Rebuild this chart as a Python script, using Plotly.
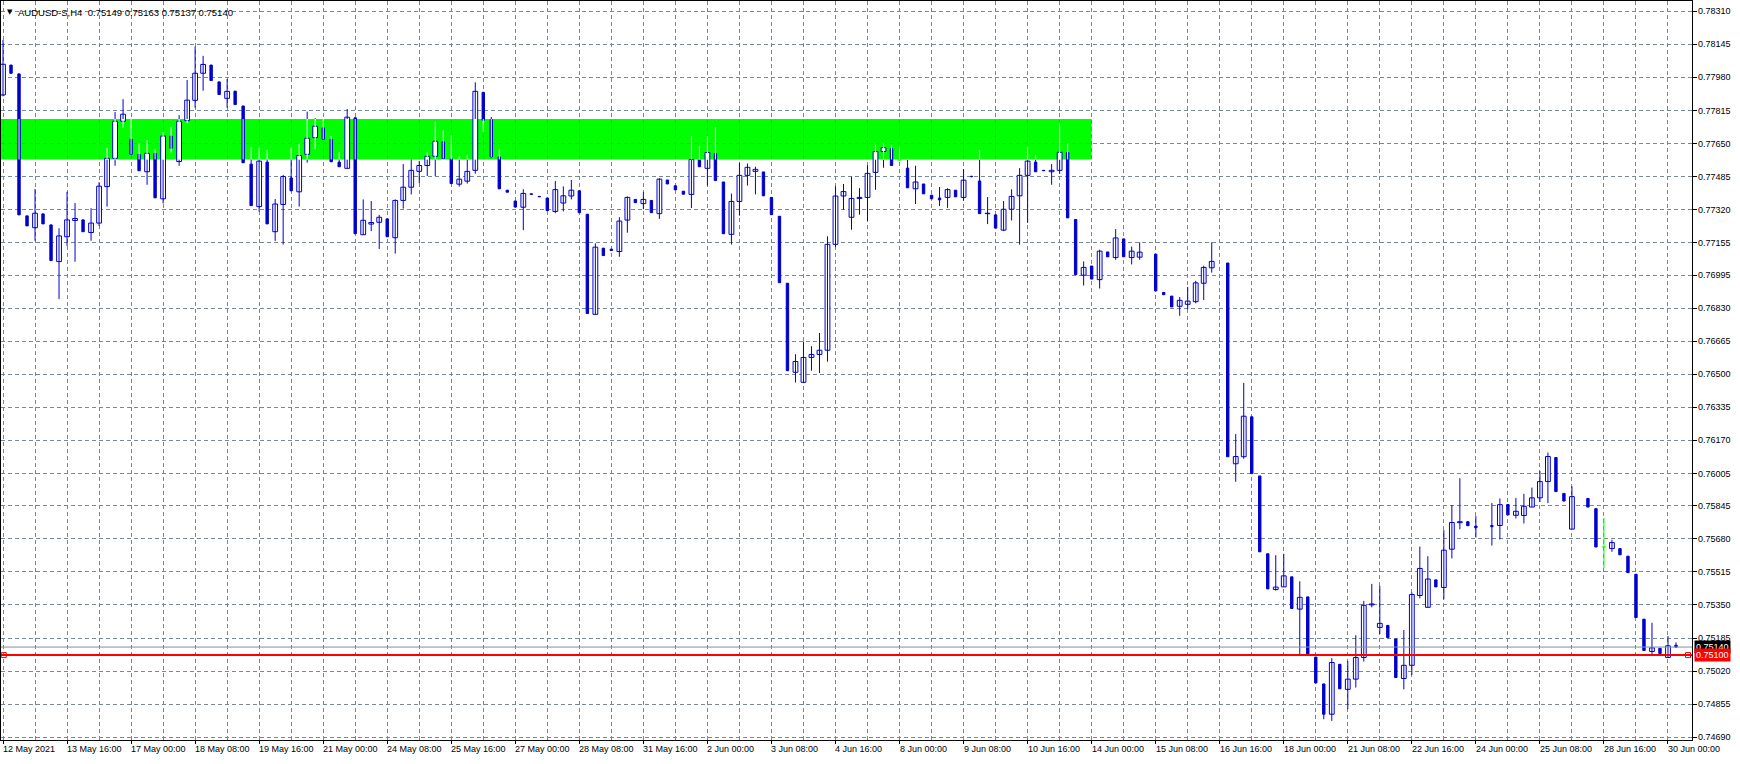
import plotly.graph_objects as go

# ---------------- data (AUDUSD-S, H4) ----------------
date_labels = ["12 May 2021", "13 May 16:00", "17 May 00:00", "18 May 08:00", "19 May 16:00",
               "21 May 00:00", "24 May 08:00", "25 May 16:00", "27 May 00:00", "28 May 08:00",
               "31 May 16:00", "2 Jun 00:00", "3 Jun 08:00", "4 Jun 16:00", "8 Jun 00:00",
               "9 Jun 08:00", "10 Jun 16:00", "14 Jun 00:00", "15 Jun 08:00", "16 Jun 16:00",
               "18 Jun 00:00", "21 Jun 08:00", "22 Jun 16:00", "24 Jun 00:00", "25 Jun 08:00",
               "28 Jun 16:00", "30 Jun 00:00"]

open_ = [
    0.77893, 0.78042, 0.77998, 0.77290, 0.77231, 0.77300, 0.77245, 0.77062, 0.77186, 0.77267,
    0.77270, 0.77207, 0.77254, 0.77436, 0.77577, 0.77762, 0.77672, 0.77597, 0.77510, 0.77602,
    0.77375, 0.77688, 0.77561, 0.77765, 0.77866, 0.78001, 0.78042, 0.77958, 0.77876, 0.77912,
    0.77838, 0.77548, 0.77336, 0.77558, 0.77211, 0.77347, 0.77479, 0.77410, 0.77597, 0.77680,
    0.77729, 0.77672, 0.77558, 0.77527, 0.77779, 0.77196, 0.77249, 0.77258, 0.77275, 0.77181,
    0.77367, 0.77433, 0.77512, 0.77541, 0.77587, 0.77660, 0.77574, 0.77448, 0.77463, 0.77517,
    0.77906, 0.77770, 0.77584, 0.77418, 0.77364, 0.77333, 0.77400, 0.77387, 0.77379, 0.77312,
    0.77354, 0.77389, 0.77415, 0.77298, 0.76799, 0.77129, 0.77124, 0.77112, 0.77269, 0.77372,
    0.77351, 0.77367, 0.77301, 0.77469, 0.77440, 0.77413, 0.77397, 0.77568, 0.77527, 0.77601,
    0.77459, 0.77198, 0.77362, 0.77492, 0.77512, 0.77509, 0.77382, 0.77288, 0.76954, 0.76510,
    0.76460, 0.76584, 0.76599, 0.76620, 0.77148, 0.77389, 0.77283, 0.77377, 0.77382, 0.77507,
    0.77611, 0.77625, 0.77568, 0.77528, 0.77425, 0.77449, 0.77393, 0.77379, 0.77382, 0.77418,
    0.77382, 0.77487, 0.77464, 0.77301, 0.77295, 0.77219, 0.77323, 0.77390, 0.77492, 0.77558,
    0.77517, 0.77510, 0.77517, 0.77607, 0.77272, 0.76994, 0.77040, 0.76972, 0.77110, 0.77082,
    0.77175, 0.77082, 0.77084, None, 0.77099, 0.76908, 0.76890, 0.76839, 0.76849, 0.76862,
    0.76954, 0.77031, None, 0.77055, 0.76054, 0.76089, 0.76288, 0.75993, 0.75605, 0.75427,
    0.75440, 0.75490, 0.75329, 0.75390, 0.75090, 0.74956, 0.74805, 0.75054, 0.74929, 0.74980,
    0.75088, 0.75350, 0.75238, 0.75248, 0.75180, 0.74983, 0.75049, 0.75397, 0.75338, 0.75475,
    0.75437, 0.75628, 0.75760, 0.75765, 0.75743, None, 0.75746, 0.75746, 0.75851, 0.75797,
    0.75796, 0.75838, 0.75884, 0.75965, 0.76085, 0.75906, 0.75728, None, 0.75881, 0.75830,
    0.75639, 0.75631, 0.75631, 0.75593, 0.75503, 0.75279, 0.75118, 0.75134, 0.75088, 0.75149,
]
high = [
    0.78167, 0.78042, 0.77998, 0.77290, 0.77424, 0.77300, 0.77245, 0.77228, 0.77410, 0.77354,
    0.77270, 0.77328, 0.77458, 0.77629, 0.77808, 0.77872, 0.77774, 0.77652, 0.77668, 0.77622,
    0.77708, 0.77734, 0.77792, 0.77968, 0.78134, 0.78088, 0.78042, 0.77958, 0.77972, 0.77912,
    0.77838, 0.77632, 0.77630, 0.77619, 0.77374, 0.77494, 0.77632, 0.77650, 0.77810, 0.77777,
    0.77772, 0.77688, 0.77609, 0.77823, 0.77779, 0.77372, 0.77364, 0.77295, 0.77275, 0.77372,
    0.77548, 0.77571, 0.77564, 0.77609, 0.77759, 0.77716, 0.77691, 0.77587, 0.77592, 0.77956,
    0.77906, 0.77783, 0.77622, 0.77418, 0.77364, 0.77423, 0.77400, 0.77387, 0.77379, 0.77464,
    0.77437, 0.77469, 0.77415, 0.77298, 0.77153, 0.77129, 0.77124, 0.77283, 0.77387, 0.77372,
    0.77408, 0.77367, 0.77478, 0.77469, 0.77440, 0.77413, 0.77688, 0.77639, 0.77688, 0.77731,
    0.77459, 0.77401, 0.77555, 0.77551, 0.77535, 0.77509, 0.77382, 0.77288, 0.76954, 0.76600,
    0.76663, 0.76640, 0.76706, 0.77188, 0.77438, 0.77449, 0.77486, 0.77428, 0.77543, 0.77645,
    0.77653, 0.77644, 0.77632, 0.77578, 0.77540, 0.77449, 0.77393, 0.77434, 0.77428, 0.77418,
    0.77523, 0.77490, 0.77619, 0.77384, 0.77295, 0.77364, 0.77423, 0.77528, 0.77634, 0.77594,
    0.77517, 0.77548, 0.77752, 0.77652, 0.77272, 0.77063, 0.77040, 0.77121, 0.77110, 0.77224,
    0.77175, 0.77137, 0.77158, None, 0.77099, 0.76908, 0.76890, 0.76885, 0.76936, 0.76966,
    0.77041, 0.77158, None, 0.77055, 0.76202, 0.76457, 0.76288, 0.75993, 0.75605, 0.75598,
    0.75605, 0.75490, 0.75468, 0.75390, 0.75090, 0.74956, 0.75085, 0.75054, 0.75070, 0.75199,
    0.75370, 0.75455, 0.75445, 0.75248, 0.75180, 0.75225, 0.75412, 0.75641, 0.75593, 0.75475,
    0.75723, 0.75848, 0.75982, 0.75765, 0.75793, None, 0.75858, 0.75881, 0.75851, 0.75884,
    0.75904, 0.75935, 0.76018, 0.76110, 0.76085, 0.75906, 0.75942, None, 0.75881, 0.75830,
    0.75784, 0.75675, 0.75631, 0.75593, 0.75503, 0.75279, 0.75261, 0.75134, 0.75195, 0.75163,
]
low = [
    0.77886, 0.78001, 0.77295, 0.77240, 0.77166, 0.77250, 0.77067, 0.76875, 0.77140, 0.77061,
    0.77211, 0.77166, 0.77240, 0.77336, 0.77540, 0.77730, 0.77597, 0.77515, 0.77445, 0.77380,
    0.77352, 0.77606, 0.77540, 0.77752, 0.77829, 0.77914, 0.77965, 0.77895, 0.77829, 0.77845,
    0.77555, 0.77341, 0.77311, 0.77250, 0.77165, 0.77147, 0.77415, 0.77336, 0.77555, 0.77622,
    0.77672, 0.77560, 0.77535, 0.77527, 0.77201, 0.77196, 0.77214, 0.77125, 0.77186, 0.77102,
    0.77326, 0.77397, 0.77453, 0.77489, 0.77489, 0.77576, 0.77451, 0.77436, 0.77451, 0.77500,
    0.77709, 0.77584, 0.77425, 0.77408, 0.77334, 0.77219, 0.77397, 0.77385, 0.77316, 0.77303,
    0.77312, 0.77372, 0.77306, 0.76803, 0.76799, 0.77092, 0.77117, 0.77086, 0.77206, 0.77356,
    0.77323, 0.77306, 0.77275, 0.77449, 0.77420, 0.77398, 0.77329, 0.77535, 0.77441, 0.77466,
    0.77201, 0.77147, 0.77291, 0.77441, 0.77397, 0.77390, 0.77296, 0.76957, 0.76518, 0.76459,
    0.76456, 0.76518, 0.76506, 0.76563, 0.77134, 0.77321, 0.77221, 0.77296, 0.77264, 0.77420,
    0.77530, 0.77541, 0.77565, 0.77430, 0.77349, 0.77400, 0.77375, 0.77339, 0.77330, 0.77385,
    0.77366, 0.77482, 0.77301, 0.77249, 0.77229, 0.77214, 0.77267, 0.77147, 0.77255, 0.77510,
    0.77515, 0.77445, 0.77499, 0.77280, 0.76997, 0.76943, 0.76975, 0.76928, 0.77086, 0.77071,
    0.77086, 0.77048, 0.77071, None, 0.76916, 0.76897, 0.76836, 0.76792, 0.76824, 0.76854,
    0.76870, 0.77007, None, 0.76089, 0.75964, 0.76079, 0.76005, 0.75615, 0.75430, 0.75421,
    0.75440, 0.75332, 0.75105, 0.75105, 0.74961, 0.74780, 0.74772, 0.74932, 0.74830, 0.74938,
    0.75068, 0.75338, 0.75205, 0.75187, 0.74988, 0.74929, 0.75001, 0.75383, 0.75338, 0.75440,
    0.75378, 0.75582, 0.75727, 0.75745, 0.75686, None, 0.75646, 0.75677, 0.75799, 0.75781,
    0.75756, 0.75838, 0.75863, 0.75858, 0.75915, 0.75868, 0.75728, None, 0.75838, 0.75639,
    0.75534, 0.75615, 0.75600, 0.75511, 0.75287, 0.75123, 0.75095, 0.75108, 0.75088, 0.75137,
]
close = [
    0.78046, 0.78001, 0.77295, 0.77240, 0.77303, 0.77250, 0.77067, 0.77190, 0.77270, 0.77277,
    0.77211, 0.77254, 0.77438, 0.77577, 0.77762, 0.77797, 0.77597, 0.77515, 0.77602, 0.77380,
    0.77688, 0.77627, 0.77762, 0.77867, 0.78001, 0.78045, 0.77965, 0.77895, 0.77911, 0.77845,
    0.77555, 0.77341, 0.77563, 0.77250, 0.77349, 0.77486, 0.77415, 0.77591, 0.77677, 0.77737,
    0.77672, 0.77560, 0.77535, 0.77782, 0.77201, 0.77268, 0.77257, 0.77283, 0.77186, 0.77367,
    0.77433, 0.77517, 0.77541, 0.77587, 0.77662, 0.77576, 0.77451, 0.77473, 0.77512, 0.77911,
    0.77767, 0.77584, 0.77425, 0.77408, 0.77334, 0.77402, 0.77397, 0.77385, 0.77316, 0.77421,
    0.77390, 0.77418, 0.77306, 0.76803, 0.77134, 0.77092, 0.77117, 0.77264, 0.77382, 0.77356,
    0.77372, 0.77306, 0.77473, 0.77449, 0.77420, 0.77398, 0.77571, 0.77535, 0.77606, 0.77466,
    0.77201, 0.77362, 0.77492, 0.77532, 0.77522, 0.77390, 0.77296, 0.76957, 0.76518, 0.76564,
    0.76584, 0.76599, 0.76620, 0.77148, 0.77389, 0.77411, 0.77377, 0.77382, 0.77502, 0.77611,
    0.77630, 0.77541, 0.77568, 0.77430, 0.77459, 0.77400, 0.77375, 0.77370, 0.77421, 0.77385,
    0.77468, 0.77486, 0.77301, 0.77303, 0.77229, 0.77323, 0.77387, 0.77492, 0.77563, 0.77510,
    0.77515, 0.77517, 0.77607, 0.77280, 0.76997, 0.77033, 0.76975, 0.77114, 0.77086, 0.77180,
    0.77086, 0.77114, 0.77109, None, 0.76916, 0.76897, 0.76836, 0.76869, 0.76865, 0.76956,
    0.77033, 0.77063, None, 0.76089, 0.76090, 0.76291, 0.76005, 0.75615, 0.75430, 0.75439,
    0.75495, 0.75332, 0.75388, 0.75105, 0.74961, 0.74805, 0.75063, 0.74932, 0.74980, 0.75088,
    0.75348, 0.75355, 0.75258, 0.75187, 0.74988, 0.75049, 0.75402, 0.75532, 0.75479, 0.75440,
    0.75623, 0.75761, 0.75765, 0.75745, 0.75735, None, 0.75740, 0.75850, 0.75799, 0.75817,
    0.75842, 0.75884, 0.75965, 0.76090, 0.75915, 0.75868, 0.75890, None, 0.75838, 0.75639,
    0.75639, 0.75661, 0.75600, 0.75511, 0.75287, 0.75123, 0.75136, 0.75108, 0.75146, 0.75140,
]

price_ticks = [0.78310, 0.78145, 0.77980, 0.77815, 0.77650, 0.77485, 0.77320, 0.77155,
               0.76995, 0.76830, 0.76665, 0.76500, 0.76335, 0.76170, 0.76005, 0.75845,
               0.75680, 0.75515, 0.75350, 0.75185, 0.75020, 0.74855, 0.74690]

zone_low, zone_high = 0.77571, 0.77773   # green rectangle prices
zone_end_bar = 136                       # rectangle ends at 14 Jun 00:00
level_price = 0.75100                    # red horizontal line
bid_price = 0.75140                      # current bid
header = "AUDUSD-S,H4  0.75149 0.75163 0.75137 0.75140"

# ---------------- styling ----------------
BLUE = "#0000CD"
LIME = "#00FF00"
GRID = "#778899"
FONT = "Liberation Sans"
x_range = [-0.25, 211.0]
y_range = [0.746765, 0.783614]

# ---------------- build marks ----------------
wick_b_x, wick_b_y = [], []
wick_w_x, wick_w_y = [], []
wick_g_x, wick_g_y = [], []
bull_x, bull_base, bull_h = [], [], []
bear_x, bear_base, bear_h = [], [], []
doji_x, doji_y = [], []


def seg(xl, yl, i, a, b):
    xl.extend([i, i, None])
    yl.extend([a, b, None])


for i, (o, h, l, c) in enumerate(zip(open_, high, low, close)):
    if o is None:
        continue
    is_doji = (o == c)
    if i <= zone_end_bar and h > zone_low and l < zone_high:
        seg(wick_w_x, wick_w_y, i, max(l, zone_low), min(h, zone_high))
        tx, ty = (wick_g_x, wick_g_y) if is_doji else (wick_b_x, wick_b_y)
        if l < zone_low:
            seg(tx, ty, i, l, zone_low)
        if h > zone_high:
            seg(tx, ty, i, zone_high, h)
    else:
        if is_doji:
            seg(wick_g_x, wick_g_y, i, l, h)
        else:
            seg(wick_b_x, wick_b_y, i, l, h)
    if c > o:
        bull_x.append(i); bull_base.append(o); bull_h.append(c - o)
    elif c < o:
        bear_x.append(i); bear_base.append(c); bear_h.append(o - c)
    else:
        doji_x.extend([i - 0.28, i + 0.28, None]); doji_y.extend([o, o, None])

fig = go.Figure()
fig.add_trace(go.Scatter(x=wick_b_x, y=wick_b_y, mode="lines", line=dict(color=BLUE, width=1),
                         hoverinfo="skip"))
fig.add_trace(go.Scatter(x=wick_w_x, y=wick_w_y, mode="lines", line=dict(color="white", width=1),
                         hoverinfo="skip"))
fig.add_trace(go.Scatter(x=wick_g_x, y=wick_g_y, mode="lines", line=dict(color=LIME, width=1),
                         hoverinfo="skip"))
fig.add_trace(go.Bar(x=bull_x, y=bull_h, base=bull_base, width=0.6,
                     marker=dict(color="white", line=dict(color=BLUE, width=1)), hoverinfo="skip"))
fig.add_trace(go.Bar(x=bear_x, y=bear_h, base=bear_base, width=0.3,
                     marker=dict(color=BLUE, line=dict(color=BLUE, width=1)), hoverinfo="skip"))
fig.add_trace(go.Scatter(x=doji_x, y=doji_y, mode="lines", line=dict(color=LIME, width=1),
                         hoverinfo="skip"))
# end markers of the horizontal level line
fig.add_trace(go.Scatter(x=[x_range[0] + 0.35, x_range[1] - 0.5], y=[level_price, level_price],
                         mode="markers", marker=dict(symbol="square-open", size=5, color="red",
                                                     line=dict(width=1, color="red")),
                         hoverinfo="skip"))

shapes = [
    dict(type="rect", xref="x", yref="y", x0=x_range[0] - 1, x1=zone_end_bar,
         y0=zone_low, y1=zone_high, fillcolor=LIME, line=dict(width=0), layer="below"),
    dict(type="line", xref="paper", yref="y", x0=0, x1=1, y0=bid_price, y1=bid_price,
         line=dict(color="#8090A0", width=1), layer="above"),
    dict(type="line", xref="paper", yref="y", x0=0, x1=1, y0=level_price, y1=level_price,
         line=dict(color="red", width=2), layer="above"),
]

annotations = []
for k, lab in enumerate(date_labels):
    annotations.append(dict(x=k * 8, xref="x", y=0, yref="paper", text=lab, showarrow=False,
                            xanchor="left", yanchor="top", xshift=-2, yshift=-2,
                            font=dict(family=FONT, size=9, color="black")))
# price scale labels (left aligned next to the axis, as in the terminal)
for v in price_ticks:
    annotations.append(dict(x=1, xref="paper", y=v, yref="y", text=f"{v:.5f}", showarrow=False,
                            xanchor="left", yanchor="middle", xshift=5, borderpad=0,
                            font=dict(family=FONT, size=9, color="black")))
annotations.append(dict(x=0, xref="paper", y=1, yref="paper", text="▼", showarrow=False,
                        xanchor="left", yanchor="top", xshift=4, yshift=-5,
                        font=dict(family="DejaVu Sans", size=7, color="black")))
annotations.append(dict(x=0, xref="paper", y=1, yref="paper", text=header, showarrow=False,
                        xanchor="left", yanchor="top", xshift=15, yshift=-4,
                        font=dict(family=FONT, size=9.5, color="black")))
annotations.append(dict(x=1, xref="paper", y=bid_price, yref="y", text=f"{bid_price:.5f}",
                        showarrow=False, xanchor="left", yanchor="middle", xshift=2,
                        bgcolor="black", borderpad=1, font=dict(family=FONT, size=9, color="white")))
annotations.append(dict(x=1, xref="paper", y=level_price, yref="y", text=f"{level_price:.5f}",
                        showarrow=False, xanchor="left", yanchor="middle", xshift=2,
                        bgcolor="red", borderpad=1, font=dict(family=FONT, size=9, color="white")))

fig.update_layout(
    width=1740, height=764,
    margin=dict(l=1, r=48, t=1, b=24),
    paper_bgcolor="white", plot_bgcolor="white",
    showlegend=False, barmode="overlay",
    shapes=shapes, annotations=annotations,
    font=dict(family=FONT, size=9, color="black"),
)
fig.update_xaxes(
    range=x_range, tickmode="linear", tick0=0, dtick=8, showticklabels=False,
    ticks="outside", ticklen=3, tickcolor="black",
    showgrid=True, gridcolor=GRID, gridwidth=1, griddash="4px,3px",
    minor=dict(tickmode="linear", tick0=0, dtick=4, showgrid=True, gridcolor=GRID,
               gridwidth=1, griddash="4px,3px", ticks=""),
    showline=True, linecolor="black", linewidth=1, mirror=True, zeroline=False,
)
fig.update_yaxes(
    range=y_range, side="right", tickmode="array", tickvals=price_ticks,
    showticklabels=False,
    ticks="outside", ticklen=4, tickcolor="black",
    showgrid=True, gridcolor=GRID, gridwidth=1, griddash="4px,3px",
    showline=True, linecolor="black", linewidth=1, mirror=True, zeroline=False,
)

fig.write_html("out.html",
               config={"displayModeBar": False, "staticPlot": True},
               post_script="document.body.style.margin='0px';"
                           "document.body.style.overflow='hidden';")
